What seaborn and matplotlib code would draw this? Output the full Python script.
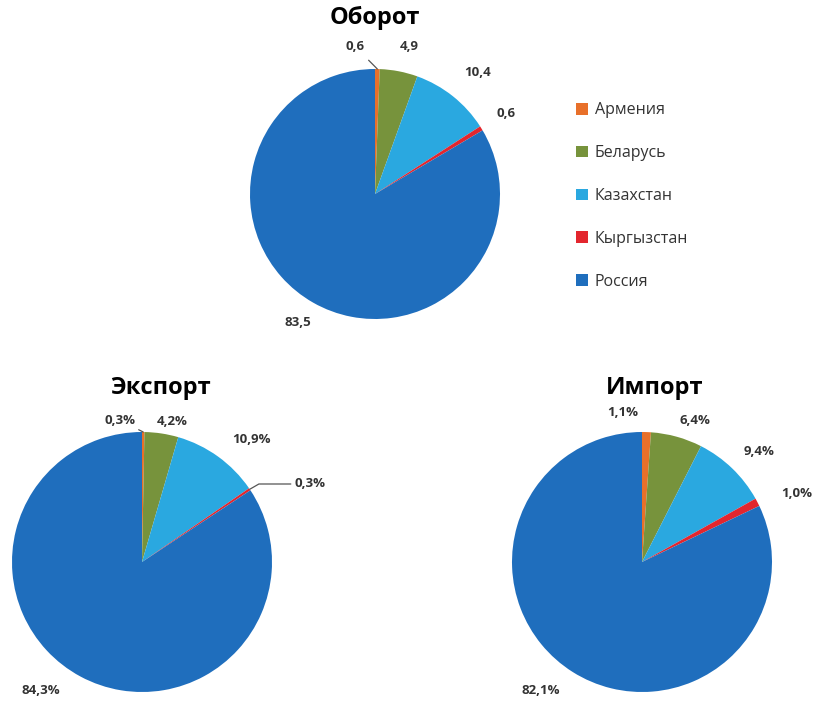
import numpy as np
import matplotlib
matplotlib.use("Agg")
import matplotlib.pyplot as plt
import seaborn as sns
from matplotlib.patches import Patch

countries = ["Армения", "Беларусь", "Казахстан", "Кыргызстан", "Россия"]
turnover = [0.6, 4.9, 10.4, 0.6, 83.5]
export = [0.3, 4.2, 10.9, 0.3, 84.3]
imports = [1.1, 6.4, 9.4, 1.0, 82.1]
turnover_labels = ["0,6", "4,9", "10,4", "0,6", "83,5"]
export_labels = ["0,3%", "4,2%", "10,9%", "0,3%", "84,3%"]
import_labels = ["1,1%", "6,4%", "9,4%", "1,0%", "82,1%"]
titles = ["Оборот", "Экспорт", "Импорт"]

colors = ["#E8702A", "#77933C", "#2AA8E0", "#E3262E", "#1F6EBD"]

sns.set_theme(style="white")
plt.rcParams["font.family"] = ["Open Sans", "DejaVu Sans"]

W, H = 821, 701
fig = plt.figure(figsize=(W / 100, H / 100), dpi=100)
fig.patch.set_facecolor("white")

# layout: (cx, cy, r) in pixels from top-left
layouts = [(375, 194, 125), (142, 562, 130), (642, 562, 130)]
# label positions (radius units, relative to centre)
label_pos = [
    [(-0.16, 1.18), (0.27, 1.18), (0.82, 0.97), (1.05, 0.64), (-0.62, -1.03)],
    [(-0.17, 1.09), (0.23, 1.08), (0.84, 0.94), (1.17, 0.60), (-0.78, -0.99)],
    [(-0.15, 1.15), (0.41, 1.09), (0.90, 0.85), (1.19, 0.53), (-0.78, -0.99)],
]
leaders = [{0}, {0, 3}, set()]
title_pos = [(375, 18), (160, 388), (655, 388)]
LFS = 9.5

datasets = [(turnover, turnover_labels), (export, export_labels), (imports, import_labels)]

for k, ((vals, labs), (cx, cy, r)) in enumerate(zip(datasets, layouts)):
    ax = fig.add_axes([(cx - r) / W, 1 - (cy + r) / H, 2 * r / W, 2 * r / H])
    wedges, _ = ax.pie(vals, colors=colors, startangle=90, counterclock=False,
                       wedgeprops=dict(linewidth=0))
    ax.set_xlim(-1, 1)
    ax.set_ylim(-1, 1)
    ax.axis("off")
    for i, (w, lab) in enumerate(zip(wedges, labs)):
        tx, ty = label_pos[k][i]
        if i in leaders[k]:
            ang = np.deg2rad((w.theta1 + w.theta2) / 2)
            ex, ey = np.cos(ang), np.sin(ang)
            if k == 1 and i == 3:
                ax.annotate(lab, xy=(ex, ey), xytext=(tx, ty), ha="left", va="center",
                            fontsize=LFS, fontweight="bold", color="#333333",
                            arrowprops=dict(arrowstyle="-", color="#555555", lw=0.9,
                                            shrinkA=0, shrinkB=0,
                                            connectionstyle="angle,angleA=0,angleB=30"))
            else:
                ax.annotate(lab, xy=(ex, ey), xytext=(tx, ty), ha="center", va="center",
                            fontsize=LFS, fontweight="bold", color="#333333",
                            arrowprops=dict(arrowstyle="-", color="#555555", lw=0.9,
                                            shrinkA=4, shrinkB=0))
        else:
            ax.text(tx, ty, lab, ha="center", va="center", fontsize=LFS,
                    fontweight="bold", color="#333333")
    tx, ty = title_pos[k]
    fig.text(tx / W, 1 - ty / H, titles[k], ha="center", va="center",
             fontsize=17, fontweight="bold", color="black")

handles = [Patch(facecolor=c, edgecolor="none", label=n) for c, n in zip(colors, countries)]
fig.legend(handles=handles, loc="upper left", bbox_to_anchor=(562 / W, 1 - 88 / H),
           frameon=False, fontsize=11.5, handlelength=0.75, handleheight=0.75,
           handletextpad=0.4, labelspacing=1.68, labelcolor="#333333")

fig.savefig("out.png", dpi=100, facecolor="white")
